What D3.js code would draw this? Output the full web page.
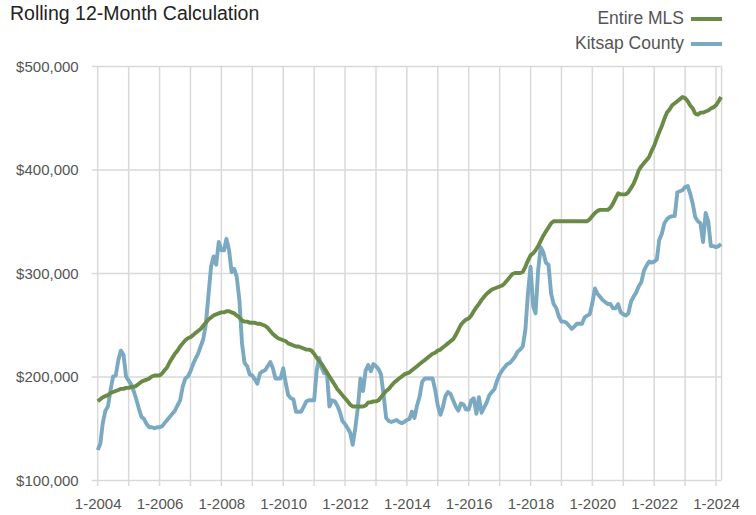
<!DOCTYPE html>
<html>
<head>
<meta charset="utf-8">
<script src="https://cdn.jsdelivr.net/npm/d3@7"></script>
<style>
  html, body { margin: 0; padding: 0; background: #fff; }
  svg { display: block; }
  text { font-family: "Liberation Sans", Arial, sans-serif; }
</style>
</head>
<body>
<svg id="chart" width="756" height="515"></svg>
<script>
// ---- data (monthly, Jan 2004 .. Mar 2024) ----
const startYear = 2004;
const seriesNames = ["Entire MLS", "Kitsap County"];
const mlsValues = [
  176,178,180,181,182,184,185,186,187,188,188,189,   // 2004
  189,190,190,191,193,195,196,197,198,200,201,201,   // 2005
  201,203,206,209,214,218,222,225,229,232,235,237,   // 2006
  238,240,242,244,246,249,252,255,257,259,260,261,   // 2007
  262,262,263,263,262,261,259,257,254,253,253,252,   // 2008
  252,252,251,251,250,249,247,244,241,239,237,236,   // 2009
  235,234,232,231,230,229,229,228,227,226,226,225,   // 2010
  222,218,215,212,208,204,200,196,192,188,185,182,   // 2011
  179,176,173,171,171,171,171,171,172,175,175,176,   // 2012
  176,177,180,183,186,188,191,194,196,198,200,202,   // 2013
  203,204,206,208,210,212,214,216,218,220,222,223,   // 2014
  225,226,228,230,232,234,236,240,245,250,253,255,   // 2015
  256,259,263,267,270,274,277,280,282,284,285,286,   // 2016
  287,288,290,293,296,299,300,300,300,301,306,312,   // 2017
  317,319,322,326,331,336,340,344,348,350,350,350,   // 2018
  350,350,350,350,350,350,350,350,350,350,350,352,   // 2019
  355,358,360,361,361,361,361,363,367,372,377,376,   // 2020
  376,376,378,382,386,392,399,403,406,409,412,418,   // 2021
  423,430,436,442,449,455,458,462,464,466,468,470,   // 2022
  469,466,462,459,454,453,455,455,456,457,459,460,   // 2023
  462,466,470                                        // 2024
];
const kitsapValues = [
  129,135,155,167,171,187,200,201,216,225,221,200,   // 2004
  196,192,186,178,169,161,159,154,151,151,150,151,   // 2005
  151,152,155,158,161,164,167,172,177,190,198,200,   // 2006
  205,212,217,222,229,236,250,278,306,316,308,330,   // 2007
  322,322,333,322,301,304,296,274,232,213,210,202,   // 2008
  201,197,193,203,205,206,210,214,208,198,198,198,   // 2009
  208,193,182,179,178,166,166,166,171,176,177,177,   // 2010
  177,206,218,208,203,203,171,177,176,172,166,157,   // 2011
  154,150,146,134,150,170,198,186,206,211,205,212,   // 2012
  210,207,202,182,160,157,156,157,158,156,155,156,   // 2013
  158,159,166,160,172,181,195,198,198,198,198,187,   // 2014
  172,163,170,181,185,183,177,171,167,174,173,168,   // 2015
  168,177,179,164,180,165,170,175,182,185,188,196,   // 2016
  202,206,209,212,213,216,219,224,226,229,245,280,   // 2017
  306,268,261,303,325,320,310,308,280,270,266,258,   // 2018
  253,253,252,249,246,248,251,251,251,257,259,260,   // 2019
  271,285,280,277,274,272,270,270,266,266,270,262,   // 2020
  260,259,261,272,277,281,287,291,302,307,311,310,   // 2021
  311,313,332,338,348,352,354,355,355,378,379,380,   // 2022
  383,384,377,367,354,350,348,330,358,350,326,326,   // 2023
  325,326,328                                        // 2024
];
const xTickLabels = ["1-2004","1-2006","1-2008","1-2010","1-2012","1-2014","1-2016","1-2018","1-2020","1-2022","1-2024"];
const yTickValues = [100000, 200000, 300000, 400000, 500000];
const colors = ["#6a8b47", "#7aa9c1"];

(function () {
// ---- layout ----
const svg = d3.select("#chart");
const plotLeft = 97.7, plotTop = 66, plotBottom = 480;
const x = d3.scaleTime()
  .domain([new Date(2004, 0, 1), new Date(2024, 0, 1)])
  .range([plotLeft, 716]);
const y = d3.scaleLinear().domain([100000, 500000]).range([plotBottom, plotTop]);
const monthDate = i => new Date(startYear, i, 1);
const plotRight = x(monthDate(mlsValues.length - 1)) + 0.5;

const grid = "#d9d9d9";
const g = svg.append("g");

// horizontal gridlines + y axis
const yAxis = d3.axisLeft(y).tickValues(yTickValues).tickSize(6).tickPadding(13)
  .tickFormat(d => "$" + d3.format(",")(d));
const ya = g.append("g").attr("transform", `translate(${plotLeft},0)`).call(yAxis);
ya.select(".domain").remove();
ya.selectAll(".tick line").attr("x2", 0).attr("x1", -6).attr("stroke", grid).attr("stroke-width", 1.5);
ya.selectAll(".tick").append("line")
  .attr("x1", 0).attr("x2", plotRight - plotLeft).attr("stroke", grid).attr("stroke-width", 1.5);
ya.selectAll(".tick text").attr("font-size", 15).attr("fill", "#555").attr("dy", "0.35em")
  .style("font-family", '"Liberation Sans", Arial, sans-serif');

// vertical gridlines (every year) + x axis
const years = d3.range(2004, 2025).map(yy => new Date(yy, 0, 1));
g.append("g").selectAll("line").data(years).join("line")
  .attr("x1", d => x(d)).attr("x2", d => x(d))
  .attr("y1", plotTop).attr("y2", plotBottom + 6)
  .attr("stroke", grid).attr("stroke-width", 1.5);
g.append("line").attr("x1", plotRight).attr("x2", plotRight).attr("y1", plotTop).attr("y2", plotBottom)
  .attr("stroke", grid).attr("stroke-width", 1.5);

const labelDates = xTickLabels.map(s => new Date(+s.split("-")[1], +s.split("-")[0] - 1, 1));
const xAxis = d3.axisBottom(x).tickValues(labelDates).tickSize(0).tickPadding(18)
  .tickFormat((d, i) => xTickLabels[i]);
const xa = g.append("g").attr("transform", `translate(0,${plotBottom})`).call(xAxis);
xa.select(".domain").remove();
xa.selectAll(".tick text").attr("font-size", 15).attr("fill", "#555")
  .style("font-family", '"Liberation Sans", Arial, sans-serif');

// lines
const line = d3.line().x((d, i) => x(monthDate(i))).y(d => y(d * 1000));
[kitsapValues, mlsValues].forEach((vals, k) => {
  const color = k === 0 ? colors[1] : colors[0];
  g.append("path").datum(vals)
    .attr("fill", "none").attr("stroke", color).attr("stroke-width", 3.9)
    .attr("stroke-linejoin", "round").attr("d", line);
});

// title
svg.append("text").attr("x", 10).attr("y", 19.5).attr("font-size", 19.5).attr("fill", "#222")
  .text("Rolling 12-Month Calculation");

// legend
const legY = [18, 43];
seriesNames.forEach((name, i) => {
  svg.append("text").attr("x", 684).attr("y", legY[i]).attr("dy", "0.35em")
    .attr("text-anchor", "end").attr("font-size", 17.5).attr("fill", "#555").text(name);
  svg.append("line").attr("x1", 691).attr("x2", 722).attr("y1", legY[i] + 1).attr("y2", legY[i] + 1)
    .attr("stroke", colors[i]).attr("stroke-width", 4);
});
})();
</script>
</body>
</html>
